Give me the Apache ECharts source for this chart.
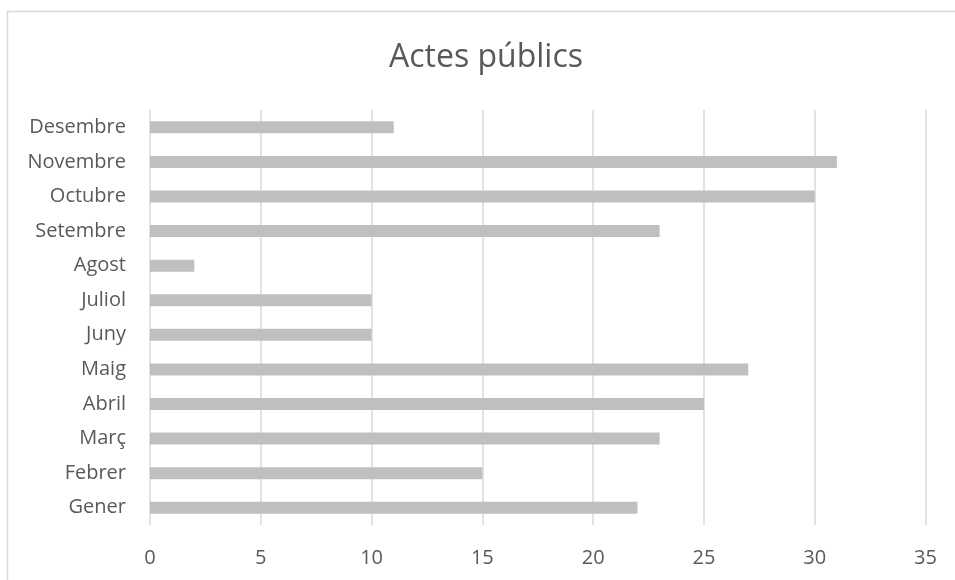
<!DOCTYPE html>
<html><head><meta charset="utf-8">
<script src="https://cdn.jsdelivr.net/npm/echarts@6/dist/echarts.min.js"></script>
<style>html,body{margin:0;padding:0;background:#fff}#c{width:955px;height:580px}</style>
</head><body><div id="c"></div>
<script>
const titleText = 'Actes públics';
const categories = ['Gener','Febrer','Març','Abril','Maig','Juny','Juliol','Agost','Setembre','Octubre','Novembre','Desembre'];
const values = [22,15,23,25,27,10,10,2,23,30,31,11];
const xMin = 0, xMax = 35, xStep = 5;

const chart = echarts.init(document.getElementById('c'), null, {renderer:'canvas'});
chart.setOption({
  animation:false,
  backgroundColor:'#fff',
  title:{text:titleText,left:481,top:37,textAlign:'center',
    textStyle:{fontFamily:'Open Sans',fontSize:32,fontWeight:'normal',color:'#595959'}},
  graphic:[{type:'rect',shape:{x:7.5,y:11.5,width:980,height:620},
    style:{fill:'none',stroke:'#d9d9d9',lineWidth:1.5},silent:true}],
  grid:{left:150,right:29.5,top:110,bottom:55,containLabel:false},
  xAxis:{type:'value',min:xMin,max:xMax,interval:xStep,
    axisLine:{show:false},axisTick:{show:false},
    splitLine:{lineStyle:{color:'#d9d9d9',width:1.5}},
    axisLabel:{color:'#595959',fontFamily:'Open Sans',fontSize:20,margin:23}},
  yAxis:{type:'category',data:categories,
    axisLine:{show:false},axisTick:{show:false},
    axisLabel:{color:'#595959',fontFamily:'Open Sans',fontSize:20,margin:24}},
  series:[{type:'bar',data:values,barWidth:12,itemStyle:{color:'#bfbfbf'}}]
});
</script></body></html>
